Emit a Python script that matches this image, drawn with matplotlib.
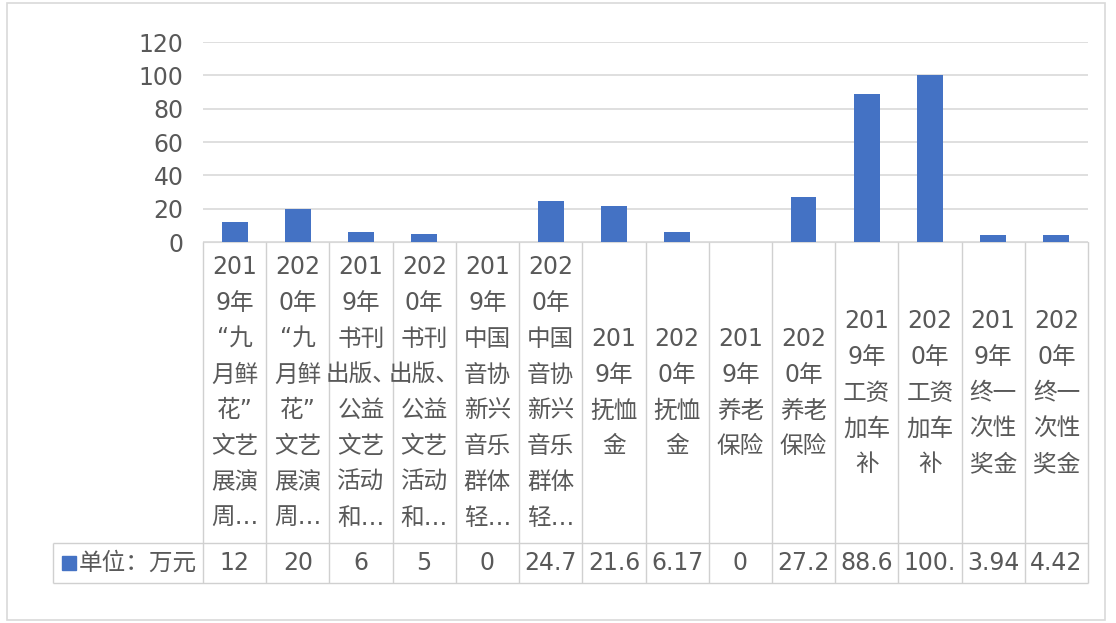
import matplotlib

matplotlib.use("Agg")

import matplotlib.pyplot as plt
import numpy as np
from matplotlib.patches import Rectangle

plt.rcParams["font.family"] = ["DejaVu Sans", "Noto Sans CJK SC"]

BLUE = "#4472C4"
GRID = "#D9D9D9"
LINE = "#D0D0D0"
TEXT = "#595959"

W, H = 1116, 623

categories = [
    "201\n9年\n“九\n月鲜\n花”\n文艺\n展演\n周…",
    "202\n0年\n“九\n月鲜\n花”\n文艺\n展演\n周…",
    "201\n9年\n书刊\n出版、\n公益\n文艺\n活动\n和…",
    "202\n0年\n书刊\n出版、\n公益\n文艺\n活动\n和…",
    "201\n9年\n中国\n音协\n新兴\n音乐\n群体\n轻…",
    "202\n0年\n中国\n音协\n新兴\n音乐\n群体\n轻…",
    "201\n9年\n抚恤\n金",
    "202\n0年\n抚恤\n金",
    "201\n9年\n养老\n保险",
    "202\n0年\n养老\n保险",
    "201\n9年\n工资\n加车\n补",
    "202\n0年\n工资\n加车\n补",
    "201\n9年\n终一\n次性\n奖金",
    "202\n0年\n终一\n次性\n奖金",
]
values = [12, 20, 6, 5, 0, 24.7, 21.6, 6.17, 0, 27.2, 88.6, 100.3, 3.94, 4.42]
series_name = "单位：万元"
y_ticks = [0, 20, 40, 60, 80, 100, 120]


def fx(px):
    return px / W


def fy(py):
    return 1 - py / H


def cell_text(v):
    # the data table cell only has room for four characters
    return f"{v:g}"[:4]


fig = plt.figure(figsize=(W / 100, H / 100), dpi=100, facecolor="white")
fig.patches.append(Rectangle((fx(7), fy(620)), fx(1105) - fx(7), fy(3) - fy(620),
                             transform=fig.transFigure, fill=False, edgecolor=GRID, linewidth=1.2))

x = np.arange(len(values))

ax = fig.add_axes([fx(203), fy(242), fx(1088) - fx(203), fy(42) - fy(242)])
ax.bar(x, values, width=0.41, color=BLUE, zorder=3)
ax.set_xlim(-0.5, len(values) - 0.5)
ax.set_ylim(0, 120)
ax.set_yticks(y_ticks)
ax.set_xticks([])
ax.grid(axis="y", color=GRID, linewidth=1.2, zorder=0)
for name, spine in ax.spines.items():
    spine.set_visible(name == "bottom")
ax.spines["bottom"].set_color(GRID)
ax.tick_params(axis="y", length=0, pad=14, labelsize=17, labelcolor=TEXT)

# data table under the chart, laid out in pixel heights
row_h, head_h = 40, 301
ax_t = fig.add_axes([fx(203), fy(583), fx(1088) - fx(203), fy(242) - fy(583)])
ax_t.set_xlim(-0.5, len(values) - 0.5)
ax_t.set_ylim(0, row_h + head_h)
ax_t.axis("off")

px_unit = (1088 - 203) / len(values)
x_left = -0.5 - (203 - 53) / px_unit

ax_t.vlines(x - 0.5, 0, row_h + head_h, color=LINE, linewidth=1, clip_on=False)
ax_t.vlines([len(values) - 0.5], 0, row_h + head_h, color=LINE, linewidth=1, clip_on=False)
ax_t.vlines([x_left], 0, row_h, color=LINE, linewidth=1, clip_on=False)
ax_t.hlines([0, row_h], x_left, len(values) - 0.5, color=LINE, linewidth=1, clip_on=False)

for i, (label, v) in enumerate(zip(categories, values)):
    ax_t.text(i, row_h + head_h / 2, label, ha="center", va="center", fontsize=17,
              color=TEXT, linespacing=1.62)
    ax_t.text(i, row_h / 2, cell_text(v), ha="center", va="center", fontsize=17, color=TEXT)

ax_t.plot([x_left + 16 / px_unit], [row_h / 2], marker="s", markersize=10, color=BLUE,
          linestyle="none", clip_on=False)
ax_t.text(x_left + 26 / px_unit, row_h / 2, series_name, ha="left", va="center",
          fontsize=17, color=TEXT, clip_on=False)

fig.savefig("out.png", dpi=100)
